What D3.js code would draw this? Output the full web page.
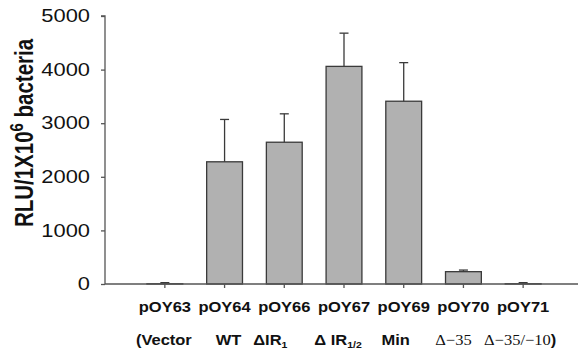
<!DOCTYPE html>
<html>
<head>
<meta charset="utf-8">
<script src="https://cdn.jsdelivr.net/npm/d3@7"></script>
<style>
  html, body { margin: 0; padding: 0; background: #fff; }
  svg { display: block; }
  text { font-family: "Liberation Sans", Arial, sans-serif; }
</style>
</head>
<body>
<div id="chart"></div>
<script>
// ---- data ----
const categories = ["pOY63", "pOY64", "pOY66", "pOY67", "pOY69", "pOY70", "pOY71"];
const values     = [5, 2280, 2645, 4060, 3410, 230, 5];
const errors     = [20, 790, 530, 620, 720, 30, 20];
const yTicks     = [0, 1000, 2000, 3000, 4000, 5000];
const subLabels = [
  {parts: [{t: "(Vector"}]},
  {parts: [{t: "WT"}]},
  {parts: [{t: "\u0394IR"}, {t: "1", sub: true}]},
  {parts: [{t: "\u0394 IR"}, {t: "1/2", sub: true}]},
  {parts: [{t: "Min"}]},
  {parts: [{t: "\u0394\u221235", serif: true}]},
  {parts: [{t: "\u0394\u221235/\u221210", serif: true}, {t: ")"}]}
];

// ---- layout ----
const W = 579, H = 349;
const SX = 1.25;   // stretch of y-axis lettering
const SXL = 1.1;   // stretch of category lettering
const subShift = [-1, 4, -14, -6, -8, -10, -3];

const svg = d3.select("#chart").append("svg").attr("width", W).attr("height", H);

const y = d3.scaleLinear().domain([0, 5000]).range([284, 16]);
const x = d3.scaleBand().domain(categories).range([135, 553])
  .paddingInner(0.4).paddingOuter(0.2);

const axisCol = "#555";

// y axis
const yAxis = svg.append("g").attr("transform", "translate(105,0)")
  .call(d3.axisLeft(y).tickValues(yTicks).tickSize(4).tickPadding(11).tickFormat(d3.format("d")));
yAxis.select(".domain").attr("stroke", axisCol).attr("stroke-width", 1.3).attr("d", `M-4,${y(5000)}H0V${y(0)}`);
yAxis.selectAll(".tick line").attr("stroke", axisCol).attr("stroke-width", 1.3);
yAxis.selectAll(".tick text").attr("font-size", 17.5).attr("fill", "#111")
  .attr("x", -15 / SX).attr("transform", `scale(${SX},1)`)
  .style("font-family", "'Liberation Sans', Arial, sans-serif");

// bars
const bw = x.bandwidth();
svg.append("g").selectAll("rect").data(categories).join("rect")
  .attr("x", d => x(d))
  .attr("y", (d, i) => y(values[i]))
  .attr("width", bw)
  .attr("height", (d, i) => y(0) - y(values[i]))
  .attr("fill", "#b1b1b1")
  .attr("stroke", "#3a3a3a")
  .attr("stroke-width", 1.3);

// error bars
const eg = svg.append("g").attr("stroke", "#3a3a3a").attr("stroke-width", 1.3);
categories.forEach((c, i) => {
  const cx = x(c) + bw / 2;
  eg.append("line").attr("x1", cx).attr("x2", cx)
    .attr("y1", y(values[i])).attr("y2", y(values[i] + errors[i]));
  eg.append("line").attr("x1", cx - 4.5).attr("x2", cx + 4.5)
    .attr("y1", y(values[i] + errors[i])).attr("y2", y(values[i] + errors[i]));
});

// x axis
const xAxis = svg.append("g").attr("transform", `translate(0,${y(0)})`)
  .call(d3.axisBottom(x).tickSize(4).tickPadding(13));
xAxis.select(".domain").attr("stroke", axisCol).attr("stroke-width", 1.3).attr("d", "M105,0H578");
xAxis.selectAll(".tick line").attr("stroke", axisCol).attr("stroke-width", 1.3);
xAxis.selectAll(".tick text").attr("font-size", 15).attr("font-weight", "bold").attr("fill", "#111")
  .attr("transform", `scale(${SXL},1)`)
  .style("font-family", "'Liberation Sans', Arial, sans-serif");

// second row labels
categories.forEach((c, i) => {
  const t = svg.append("text")
    .attr("transform", `translate(${x(c) + bw / 2 + subShift[i]},345) scale(${SXL},1)`)
    .attr("text-anchor", "middle")
    .attr("font-size", 15)
    .attr("font-weight", "bold")
    .attr("fill", "#111");
  subLabels[i].parts.forEach(p => {
    const ts = t.append("tspan").text(p.t);
    if (p.sub) ts.attr("font-size", 9.5).attr("dy", 3);
    if (p.serif) ts.style("font-family", "'Liberation Serif', 'Times New Roman', serif").attr("font-weight", "normal").attr("font-size", 15);
  });
});

// y label
const yl = svg.append("text")
  .attr("transform", `translate(33,133) scale(${SX},1) rotate(-90)`)
  .attr("text-anchor", "middle")
  .attr("font-size", 20.5)
  .attr("font-weight", "bold")
  .attr("fill", "#111");
yl.append("tspan").text("RLU/1X10");
yl.append("tspan").text("6").attr("font-size", 15).attr("dy", -8);
yl.append("tspan").text(" bacteria").attr("dy", 8);
</script>
</body>
</html>
